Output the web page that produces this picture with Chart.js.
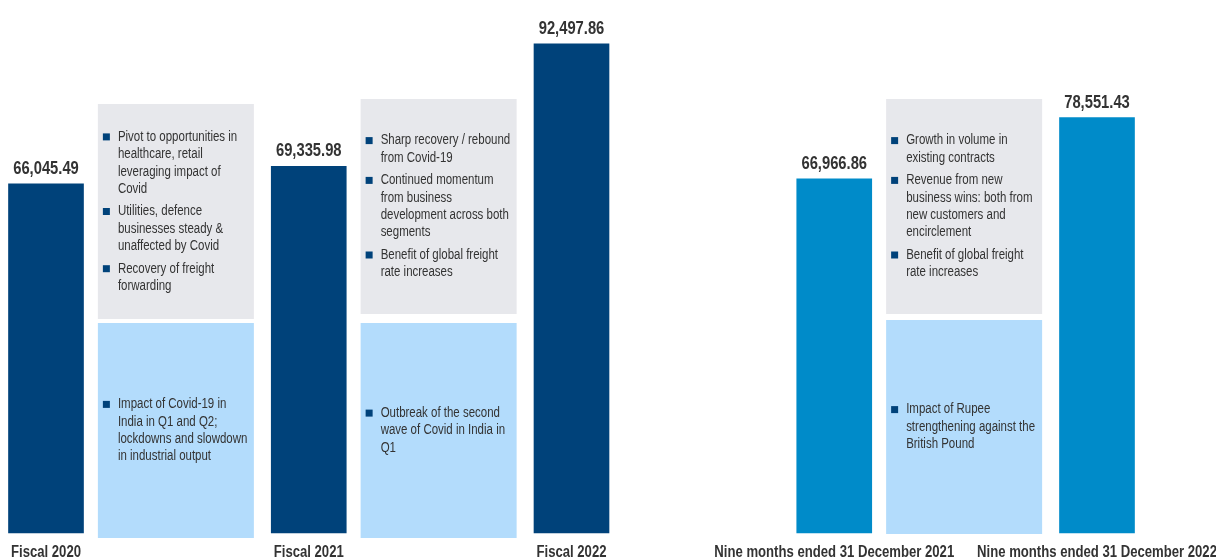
<!DOCTYPE html>
<html>
<head>
<meta charset="utf-8">
<script src="https://cdn.jsdelivr.net/npm/chart.js@4/dist/chart.umd.min.js"></script>
<style>
  html, body { margin: 0; padding: 0; background: #fff; }
  #wrap { width: 1216px; height: 559px; position: relative; }
</style>
</head>
<body>
<div id="wrap"><canvas id="chart"></canvas></div>
<script>
// Revenue by period (empty slots hold the commentary boxes)
const categories = [
    'Fiscal 2020', '', 'Fiscal 2021', '', 'Fiscal 2022', '',
    'Nine months ended 31 December 2021', '', 'Nine months ended 31 December 2022'
];
const revenue = [66045.49, null, 69335.98, null, 92497.86, null, 66966.86, null, 78551.43];

// Commentary between bars: slot index, positives (grey) and negatives (light blue)
const noteSlots = [1, 3, 7];
const positives = [
    [
        ['Pivot to opportunities in', 'healthcare, retail', 'leveraging impact of', 'Covid'],
        ['Utilities, defence', 'businesses steady &', 'unaffected by Covid'],
        ['Recovery of freight', 'forwarding']
    ],
    [
        ['Sharp recovery / rebound', 'from Covid-19'],
        ['Continued momentum', 'from business', 'development across both', 'segments'],
        ['Benefit of global freight', 'rate increases']
    ],
    [
        ['Growth in volume in', 'existing contracts'],
        ['Revenue from new', 'business wins: both from', 'new customers and', 'encirclement'],
        ['Benefit of global freight', 'rate increases']
    ]
];
const negatives = [
    [['Impact of Covid-19 in', 'India in Q1 and Q2;', 'lockdowns and slowdown', 'in industrial output']],
    [['Outbreak of the second', 'wave of Covid in India in', 'Q1']],
    [['Impact of Rupee', 'strengthening against the', 'British Pound']]
];

// Arial Narrow look: Liberation Sans squeezed horizontally
const FONT = '"Liberation Sans", Arial, sans-serif';
const SQUEEZE = 0.82;
const NAVY = '#00427a';
const BLUE = '#008bc9';
const TEXT = '#333333';

// pixel extents of the note boxes [top, bottom]
const NOTE_BOXES = [
    { upper: [104, 319], lower: [323, 538] },
    { upper: [99, 314], lower: [323, 538] },
    { upper: [99, 314], lower: [320, 534] }
];
const NOTE_WIDTH = 156;
const NOTE_SHIFT = -1.5;
const LINE_H = 17.4;
const PARA_GAP = 5;

function narrowText(ctx, text, x, y) {
    ctx.save();
    ctx.translate(x, y);
    ctx.scale(SQUEEZE, 1);
    ctx.fillText(text, 0, 0);
    ctx.restore();
}

function drawNote(ctx, left, range, fill, bullets) {
    const top = range[0], h = range[1] - range[0];
    ctx.fillStyle = fill;
    ctx.fillRect(left, top, NOTE_WIDTH, h);

    const nLines = bullets.reduce((s, b) => s + b.length, 0);
    const total = nLines * LINE_H + (bullets.length - 1) * PARA_GAP;
    let y = top + (h - total) / 2;

    ctx.font = '14px ' + FONT;
    ctx.textAlign = 'left';
    ctx.textBaseline = 'middle';
    bullets.forEach(lines => {
        ctx.fillStyle = NAVY;
        ctx.fillRect(left + 5, y + LINE_H / 2 - 3.5, 7, 7);
        ctx.fillStyle = TEXT;
        lines.forEach(line => {
            narrowText(ctx, line, left + 20, y + LINE_H / 2);
            y += LINE_H;
        });
        y += PARA_GAP;
    });
}

const notesPlugin = {
    id: 'notes',
    beforeDatasetsDraw(chart) {
        const ctx = chart.ctx;
        const xs = chart.scales.x;
        ctx.save();
        noteSlots.forEach((slot, i) => {
            const left = xs.getPixelForValue(slot) - NOTE_WIDTH / 2 + NOTE_SHIFT;
            drawNote(ctx, left, NOTE_BOXES[i].upper, '#e7e8ec', positives[i]);
            drawNote(ctx, left, NOTE_BOXES[i].lower, '#b3dcfc', negatives[i]);
        });
        ctx.restore();
    }
};

// value above each bar and category name under it
const barLabels = {
    id: 'barLabels',
    afterDatasetsDraw(chart) {
        const ctx = chart.ctx;
        const meta = chart.getDatasetMeta(0);
        ctx.save();
        ctx.fillStyle = TEXT;
        ctx.textAlign = 'center';
        ctx.textBaseline = 'alphabetic';
        meta.data.forEach((bar, i) => {
            const v = revenue[i];
            if (v == null) return;
            const txt = v.toLocaleString('en-US', { minimumFractionDigits: 2, maximumFractionDigits: 2 });
            ctx.font = 'bold 18px ' + FONT;
            narrowText(ctx, txt, bar.x, bar.y - 10);
            ctx.font = 'bold 16px ' + FONT;
            narrowText(ctx, categories[i], bar.x, chart.chartArea.bottom + 24);
        });
        ctx.restore();
    }
};

new Chart(document.getElementById('chart'), {
    type: 'bar',
    data: {
        labels: categories,
        datasets: [{
            data: revenue,
            backgroundColor: revenue.map((v, i) => i >= 6 ? BLUE : NAVY),
            barThickness: 75,
            borderWidth: 0,
            clip: false
        }]
    },
    options: {
        responsive: true,
        maintainAspectRatio: false,
        animation: false,
        layout: { padding: { left: 46, right: 119, top: 0, bottom: 0 } },
        plugins: {
            legend: { display: false },
            tooltip: { enabled: false }
        },
        scales: {
            x: {
                offset: false,
                grid: { display: false, drawTicks: false },
                border: { display: false },
                ticks: { display: false },
                afterFit(scale) { scale.height = 26; }
            },
            y: {
                display: false,
                min: 0,
                max: 100800
            }
        }
    },
    plugins: [notesPlugin, barLabels]
});
</script>
</body>
</html>
